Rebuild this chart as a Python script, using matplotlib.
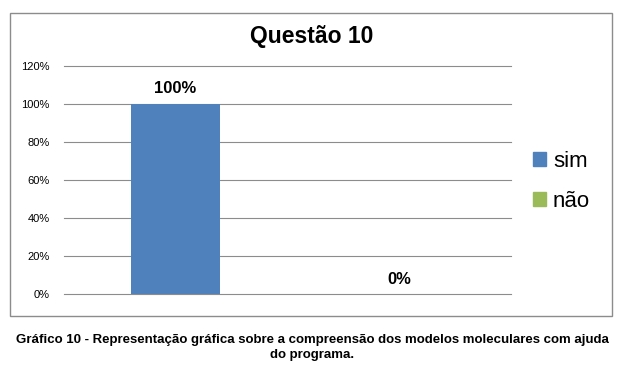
import matplotlib.pyplot as plt
from matplotlib.patches import Rectangle

categories = ['sim', 'não']
values = [100, 0]
labels = ['100%', '0%']
ticks = [0, 20, 40, 60, 80, 100, 120]
colors = ['#4F81BD', '#9BBB59']

plt.rcParams['font.family'] = ['Liberation Sans', 'DejaVu Sans']

fig = plt.figure(figsize=(6.24, 3.70), dpi=100)
fig.patch.set_facecolor('white')

# chart frame
fig.patches.append(Rectangle((0.016, 0.146), 0.965, 0.819, transform=fig.transFigure,
                             fill=False, edgecolor='#8c8c8c', linewidth=1.0))

ax = fig.add_axes([0.102, 0.205, 0.717, 0.617])
x = [0, 1]
ax.bar(x, values, width=0.4, color=colors, label=categories, zorder=3)
for xi, v, lab in zip(x, values, labels):
    ax.text(xi, v + 4, lab, ha='center', va='bottom', fontsize=12, fontweight='bold')

ax.set_xlim(-0.5, 1.5)
ax.set_ylim(0, 120)
ax.set_yticks(ticks)
ax.set_yticklabels([f'{t}%' for t in ticks], fontsize=8)
ax.set_xticks([])
for t in ticks:
    ax.axhline(t, color='#8c8c8c', linewidth=0.8, zorder=1, clip_on=False)
ax.tick_params(axis='y', length=0, pad=10)
for s in ax.spines.values():
    s.set_visible(False)

fig.text(0.5, 0.90, 'Questão 10', ha='center', va='center', fontsize=16.5, fontweight='bold')

handles = [Rectangle((0, 0), 1, 1, color=c) for c in colors]
fig.legend(handles, categories, loc='center left', bbox_to_anchor=(0.822, 0.51),
           frameon=False, fontsize=16, handlelength=0.6, handleheight=0.6,
           handletextpad=0.3, labelspacing=0.85)

fig.text(0.5, 0.082, 'Gráfico 10 - Representação gráfica sobre a compreensão dos modelos moleculares com ajuda',
         ha='center', va='center', fontsize=9.5, fontweight='bold')
fig.text(0.5, 0.04, 'do programa.', ha='center', va='center', fontsize=9.5, fontweight='bold')

fig.savefig('out.png', dpi=100)
